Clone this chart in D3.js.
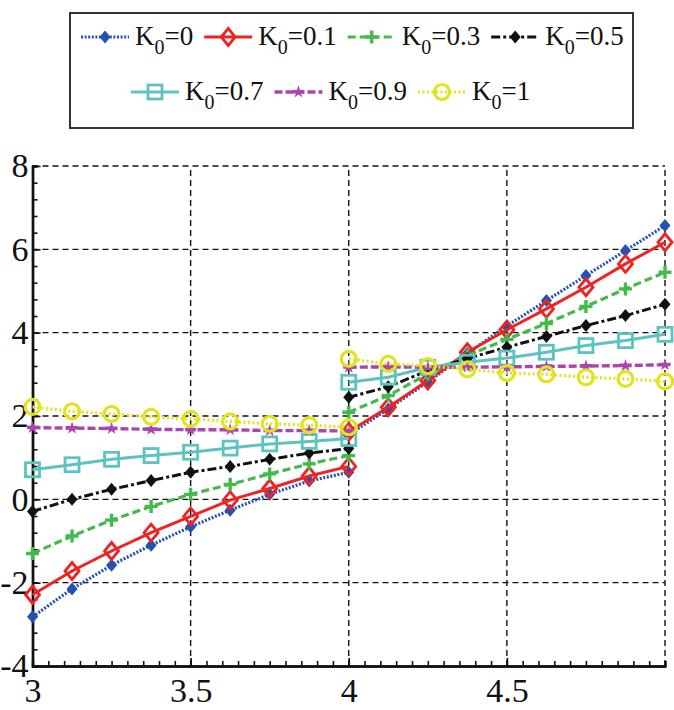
<!DOCTYPE html>
<html>
<head>
<meta charset="utf-8">
<script src="https://cdn.jsdelivr.net/npm/d3@7"></script>
<style>
  body { margin: 0; background: #fff; }
  svg text { font-family: "Times New Roman", "Liberation Serif", "DejaVu Serif", serif; fill: #111; }
</style>
</head>
<body>
<svg id="chart" width="674" height="710"></svg>
<script>
// x positions: left branch ends at 4, right branch restarts at 4
let xLeft = [3, 3.125, 3.25, 3.375, 3.5, 3.625, 3.75, 3.875, 4];
let xRight = [4, 4.125, 4.25, 4.375, 4.5, 4.625, 4.75, 4.875, 5];

let k0_0 = [-2.82, -2.15, -1.58, -1.10, -0.66, -0.26, 0.12, 0.44, 0.65,
            1.55, 2.17, 2.82, 3.50, 4.16, 4.77, 5.37, 5.97, 6.57];
let k0_01 = [-2.29, -1.72, -1.24, -0.80, -0.41, -0.02, 0.26, 0.56, 0.79,
             1.62, 2.21, 2.85, 3.53, 4.07, 4.57, 5.09, 5.65, 6.17];
let k0_03 = [-1.30, -0.88, -0.50, -0.17, 0.12, 0.36, 0.61, 0.85, 1.05,
             2.09, 2.49, 3.01, 3.45, 3.84, 4.22, 4.63, 5.05, 5.45];
let k0_05 = [-0.29, 0.00, 0.24, 0.45, 0.65, 0.79, 0.96, 1.11, 1.22,
             2.45, 2.70, 3.09, 3.38, 3.65, 3.91, 4.17, 4.41, 4.68];
let k0_07 = [0.71, 0.83, 0.96, 1.05, 1.13, 1.23, 1.33, 1.39, 1.46,
             2.81, 2.93, 3.17, 3.29, 3.39, 3.53, 3.69, 3.81, 3.96];
let k0_09 = [1.72, 1.71, 1.70, 1.68, 1.67, 1.67, 1.65, 1.65, 1.64,
             3.17, 3.18, 3.17, 3.17, 3.18, 3.19, 3.20, 3.21, 3.23];
let k0_1 = [2.22, 2.11, 2.05, 1.98, 1.93, 1.87, 1.81, 1.78, 1.73,
            3.37, 3.25, 3.20, 3.12, 3.03, 3.00, 2.93, 2.89, 2.83];

let seriesNames = ['0', '0.1', '0.3', '0.5', '0.7', '0.9', '1'];
let seriesValues = [k0_0, k0_01, k0_03, k0_05, k0_07, k0_09, k0_1];

let xTicks = [3, 3.5, 4, 4.5];
let yTicks = [-4, -2, 0, 2, 4, 6, 8];

// per-series look
let styles = [
  { color: '#2451b3', dash: '2,1.6', width: 3.2, marker: 'fdiamond' },
  { color: '#ee2424', dash: null, width: 3, marker: 'odiamond' },
  { color: '#46b94c', dash: '8,4', width: 3.2, marker: 'plus' },
  { color: '#111111', dash: '9,3,3,3', width: 3, marker: 'bdiamond' },
  { color: '#5cc3c1', dash: null, width: 3, marker: 'square' },
  { color: '#ac45ab', dash: '8,3', width: 3.4, marker: 'star' },
  { color: '#e2e21e', dash: '2,2.5', width: 3.2, marker: 'circle' }
];

let svg = d3.select('#chart');
let fontFam = '"Times New Roman", "Liberation Serif", serif';

let x = d3.scaleLinear().domain([3, 5]).range([32.5, 665]);
let y = d3.scaleLinear().domain([-4, 8]).range([666, 166]);

// grid
let grid = svg.append('g').attr('stroke', '#111').attr('stroke-width', 1.4)
  .attr('stroke-dasharray', '6,4');
grid.selectAll('.gx').data([3.5, 4, 4.5, 5]).enter().append('line')
  .attr('x1', d => x(d)).attr('x2', d => x(d))
  .attr('y1', y(-4)).attr('y2', y(8));
grid.selectAll('.gy').data([-2, 0, 2, 4, 6, 8]).enter().append('line')
  .attr('x1', x(3)).attr('x2', x(5))
  .attr('y1', d => y(d)).attr('y2', d => y(d));

// axes
let xAxis = d3.axisBottom(x).tickValues(xTicks).tickSizeInner(-8).tickSizeOuter(0)
  .tickPadding(12).tickFormat(d3.format('~g'));
let yAxis = d3.axisLeft(y).tickValues(yTicks).tickSizeInner(-8).tickSizeOuter(0)
  .tickPadding(4).tickFormat(d => d < 0 ? '-' + Math.abs(d) : d);

let gx = svg.append('g').attr('transform', `translate(0,${y(-4)})`).call(xAxis);
let gy = svg.append('g').attr('transform', `translate(${x(3)},0)`).call(yAxis);

let xMinor = d3.axisBottom(x).tickValues(d3.range(3, 5.001, 0.05)).tickSize(-5).tickFormat('');
let yMinor = d3.axisLeft(y).tickValues(d3.range(-4, 8.001, 0.4)).tickSize(-5).tickFormat('');
svg.append('g').attr('transform', `translate(0,${y(-4)})`).call(xMinor);
svg.append('g').attr('transform', `translate(${x(3)},0)`).call(yMinor);

svg.selectAll('.domain').attr('stroke', '#111').attr('stroke-width', 2.4);
svg.selectAll('.tick line').attr('stroke', '#111').attr('stroke-width', 1.6);
svg.selectAll('g').attr('font-family', null);
svg.selectAll('.tick text').style('font-family', fontFam)
  .attr('font-size', 34).attr('fill', '#111');

// markers
function drawMarker(g, type, color) {
  if (type === 'fdiamond' || type === 'bdiamond') {
    g.append('path').attr('d', 'M0,-6.5L5.5,0L0,6.5L-5.5,0Z').attr('fill', color);
  } else if (type === 'odiamond') {
    g.append('path').attr('d', 'M0,-8.5L7,0L0,8.5L-7,0Z').attr('fill', 'none')
      .attr('stroke', color).attr('stroke-width', 2.8);
  } else if (type === 'plus') {
    g.append('path').attr('d', 'M-6.5,0H6.5M0,-6.5V6.5').attr('stroke', color).attr('stroke-width', 3.4);
  } else if (type === 'square') {
    g.append('rect').attr('x', -7).attr('y', -7).attr('width', 14).attr('height', 14)
      .attr('fill', 'none').attr('stroke', color).attr('stroke-width', 2.8);
  } else if (type === 'star') {
    g.append('path').attr('d', d3.symbol().type(d3.symbolStar).size(50)())
      .attr('fill', color);
    g.append('path').attr('d', 'M-5.5,0H5.5').attr('stroke', color).attr('stroke-width', 3);
  } else if (type === 'circle') {
    g.append('circle').attr('r', 7.5).attr('fill', 'none')
      .attr('stroke', color).attr('stroke-width', 3.2);
  }
}

let line = d3.line().x(d => x(d[0])).y(d => y(d[1]));

seriesValues.forEach((vals, i) => {
  let st = styles[i];
  let left = xLeft.map((xv, j) => [xv, vals[j]]);
  let right = xRight.map((xv, j) => [xv, vals[j + xLeft.length]]);
  let g = svg.append('g');
  [left, right].forEach(seg => {
    g.append('path').datum(seg).attr('d', line)
      .attr('fill', 'none').attr('stroke', st.color).attr('stroke-width', st.width)
      .attr('stroke-dasharray', st.dash);
  });
  left.concat(right).forEach(p => {
    drawMarker(g.append('g').attr('transform', `translate(${x(p[0])},${y(p[1])})`), st.marker, st.color);
  });
});

// legend
let legend = svg.append('g');
legend.append('rect').attr('x', 70).attr('y', 13).attr('width', 563).attr('height', 115)
  .attr('fill', '#fff').attr('stroke', '#333').attr('stroke-width', 2);

let rows = [[0, 1, 2, 3], [4, 5, 6]];
let rowStart = [81, 131];
let rowY = [37, 92];
rows.forEach((row, r) => {
  let cx = rowStart[r];
  row.forEach(i => {
    let st = styles[i];
    legend.append('line').attr('x1', cx).attr('x2', cx + 48)
      .attr('y1', rowY[r]).attr('y2', rowY[r])
      .attr('stroke', st.color).attr('stroke-width', st.width)
      .attr('stroke-dasharray', st.dash);
    drawMarker(legend.append('g').attr('transform', `translate(${cx + 24},${rowY[r]})`), st.marker, st.color);
    let t = legend.append('text').attr('x', cx + 54).attr('y', rowY[r] + 8)
      .attr('font-size', 27).style('font-family', fontFam);
    t.append('tspan').text('K');
    t.append('tspan').attr('font-size', 20).attr('dy', 9).text('0');
    t.append('tspan').attr('dy', -9).text('=' + seriesNames[i]);
    cx += 54 + t.node().getComputedTextLength() + 11;
  });
});
</script>
</body>
</html>
